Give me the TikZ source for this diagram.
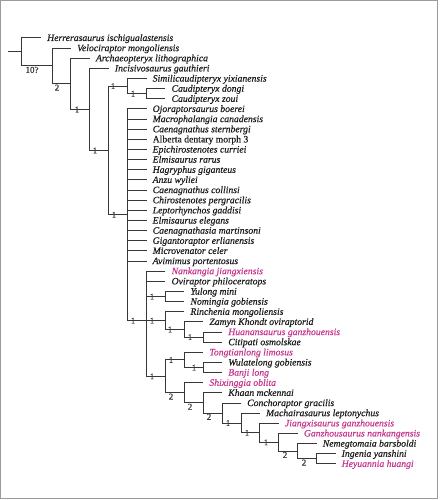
\documentclass[tikz,border=0pt]{standalone}
\usepackage{fontspec}
\setmainfont{Liberation Serif}[FakeBold=0.45]
\definecolor{treeline}{RGB}{55,55,55}
\definecolor{taxoncol}{RGB}{28,28,28}
\definecolor{newcol}{RGB}{196,54,142}
\definecolor{framecol}{RGB}{155,155,155}
\newcommand{\mytip}[6]{%
  \coordinate (e#1) at (#3,#4);
  \draw[branch] (#2) |- (e#1);
  \node[#5] (t#1) at (e#1) {#6};
}
\begin{document}
\begin{tikzpicture}[x=1pt,y=-1pt,
  branch/.style={draw=treeline, line width=1pt},
  taxon/.style={anchor=base west, inner sep=0pt, xshift=6pt, yshift=-3pt,
    font=\fontsize{9.7}{10}\selectfont\itshape, text=taxoncol},
  newtaxon/.style={taxon, text=newcol},
  uptaxon/.style={taxon, font=\fontsize{9.7}{10}\selectfont},
  tick/.style={inner sep=0pt, anchor=center, font=\fontsize{8.5}{9}\selectfont, text=treeline},
  below label/.style={inner sep=0pt, anchor=north, yshift=-0.6pt, font=\fontsize{9}{9}\selectfont, text=treeline}]
\useasboundingbox (0,0) rectangle (439,500);
\draw[framecol, line width=1pt] (0.5,0.5) rectangle (437.5,498.5);
% internal nodes
\coordinate (root) at (21,52.0);
\coordinate (stem) at (8,52.0);
\coordinate (nA) at (52.0,66.0);
\coordinate (nB) at (70.9,83.87);
\coordinate (nC) at (89.8,109.46);
\coordinate (nD) at (108.7,150.49);
\coordinate (cau) at (127.6,86.17);
\coordinate (cd) at (146.5,93.77);
\coordinate (cae) at (127.6,214.81);
\coordinate (ovi) at (146.5,320.64);
\coordinate (yn) at (165.4,296.57);
\coordinate (cx) at (165.4,320.64);
\coordinate (zam) at (184.3,329.5);
\coordinate (hc) at (203.2,337.13);
\coordinate (cy) at (165.4,376.4);
\coordinate (tt) at (184.3,359.95);
\coordinate (wb) at (203.2,367.55);
\coordinate (sx) at (184.3,392.86);
\coordinate (kh) at (203.2,402.96);
\coordinate (co) at (222.1,413.02);
\coordinate (mc) at (241.0,423.0);
\coordinate (jx) at (259.9,432.83);
\coordinate (gz) at (278.8,442.33);
\coordinate (nm) at (297.7,451.2);
\coordinate (ih) at (316.6,458.81);
% internal connectors
\draw[branch] (stem) -- (root);
\draw[branch] (root) |- (nA);
\draw[branch] (nA) |- (nB);
\draw[branch] (nB) |- (nC);
\draw[branch] (nC) |- (nD);
\draw[branch] (nD) |- (cau);
\draw[branch] (cau) |- (cd);
\draw[branch] (nD) |- (cae);
\draw[branch] (cae) |- (ovi);
\draw[branch] (ovi) |- (yn);
\draw[branch] (ovi) |- (cx);
\draw[branch] (cx) |- (zam);
\draw[branch] (zam) |- (hc);
\draw[branch] (ovi) |- (cy);
\draw[branch] (cy) |- (tt);
\draw[branch] (tt) |- (wb);
\draw[branch] (cy) |- (sx);
\draw[branch] (sx) |- (kh);
\draw[branch] (kh) |- (co);
\draw[branch] (co) |- (mc);
\draw[branch] (mc) |- (jx);
\draw[branch] (jx) |- (gz);
\draw[branch] (gz) |- (nm);
\draw[branch] (nm) |- (ih);
% tips
\mytip{1}{root}{41}{38.0}{taxon}{Herrerasaurus ischigualastensis}
\mytip{2}{nA}{70.9}{48.14}{taxon}{Velociraptor mongoliensis}
\mytip{3}{nB}{89.8}{58.28}{taxon}{Archaeopteryx lithographica}
\mytip{4}{nC}{108.7}{68.42}{taxon}{Incisivosaurus gauthieri}
\mytip{5}{cau}{146.5}{78.56}{taxon}{Similicaudipteryx yixianensis}
\mytip{6}{cd}{165.4}{88.70}{taxon}{Caudipteryx dongi}
\mytip{7}{cd}{165.4}{98.84}{taxon}{Caudipteryx zoui}
\mytip{8}{cae}{146.5}{108.98}{taxon}{Ojoraptorsaurus boerei}
\mytip{9}{cae}{146.5}{119.12}{taxon}{Macrophalangia canadensis}
\mytip{10}{cae}{146.5}{129.26}{taxon}{Caenagnathus sternbergi}
\mytip{11}{cae}{146.5}{139.40}{uptaxon}{Alberta dentary morph 3}
\mytip{12}{cae}{146.5}{149.54}{taxon}{Epichirostenotes curriei}
\mytip{13}{cae}{146.5}{159.68}{taxon}{Elmisaurus rarus}
\mytip{14}{cae}{146.5}{169.82}{taxon}{Hagryphus giganteus}
\mytip{15}{cae}{146.5}{179.96}{taxon}{Anzu wyliei}
\mytip{16}{cae}{146.5}{190.10}{taxon}{Caenagnathus collinsi}
\mytip{17}{cae}{146.5}{200.24}{taxon}{Chirostenotes pergracilis}
\mytip{18}{cae}{146.5}{210.38}{taxon}{Leptorhynchos gaddisi}
\mytip{19}{cae}{146.5}{220.52}{taxon}{Elmisaurus elegans}
\mytip{20}{cae}{146.5}{230.66}{taxon}{Caenagnathasia martinsoni}
\mytip{21}{cae}{146.5}{240.80}{taxon}{Gigantoraptor erlianensis}
\mytip{22}{cae}{146.5}{250.94}{taxon}{Microvenator celer}
\mytip{23}{cae}{146.5}{261.08}{taxon}{Avimimus portentosus}
\mytip{24}{ovi}{165.4}{271.22}{newtaxon}{Nankangia jiangxiensis}
\mytip{25}{ovi}{165.4}{281.36}{taxon}{Oviraptor philoceratops}
\mytip{26}{yn}{184.3}{291.50}{taxon}{Yulong mini}
\mytip{27}{yn}{184.3}{301.64}{taxon}{Nomingia gobiensis}
\mytip{28}{cx}{184.3}{311.78}{taxon}{Rinchenia mongoliensis}
\mytip{29}{zam}{203.2}{321.92}{taxon}{Zamyn Khondt oviraptorid}
\mytip{30}{hc}{222.1}{332.06}{newtaxon}{Huanansaurus ganzhouensis}
\mytip{31}{hc}{222.1}{342.20}{taxon}{Citipati osmolskae}
\mytip{32}{tt}{203.2}{352.34}{newtaxon}{Tongtianlong limosus}
\mytip{33}{wb}{222.1}{362.48}{taxon}{Wulatelong gobiensis}
\mytip{34}{wb}{222.1}{372.62}{newtaxon}{Banji long}
\mytip{35}{sx}{203.2}{382.76}{newtaxon}{Shixinggia oblita}
\mytip{36}{kh}{222.1}{392.90}{taxon}{Khaan mckennai}
\mytip{37}{co}{241.0}{403.04}{taxon}{Conchoraptor gracilis}
\mytip{38}{mc}{259.9}{413.18}{taxon}{Machairasaurus leptonychus}
\mytip{39}{jx}{278.8}{423.32}{newtaxon}{Jiangxisaurus ganzhouensis}
\mytip{40}{gz}{297.7}{433.46}{newtaxon}{Ganzhousaurus nankangensis}
\mytip{41}{nm}{316.6}{443.60}{taxon}{Nemegtomaia barsboldi}
\mytip{42}{ih}{335.5}{453.74}{taxon}{Ingenia yanshini}
\mytip{43}{ih}{335.5}{463.88}{newtaxon}{Heyuannia huangi}
% support values
\node[below label] (sA) at (32,66.0) {10?};
\node[below label] (sB) at (57,83.87) {2};
\node[tick] (sC) at (77,109.46) {1};
\node[tick] (sD) at (95,150.49) {1};
\node[tick] (scau) at (113,86.17) {1};
\node[tick] (scd) at (133,93.77) {1};
\node[tick] (scae) at (114,214.81) {1};
\node[tick] (sovi) at (133,320.64) {1};
\node[tick] (syn) at (152,296.57) {1};
\node[tick] (scx) at (152,320.64) {1};
\node[tick] (szam) at (170,329.5) {1};
\node[tick] (shc) at (190,337.13) {1};
\node[tick] (scy) at (152,376.4) {1};
\node[tick] (stt) at (171,359.95) {1};
\node[tick] (swb) at (194,367.55) {1};
\node[below label] (ssx) at (171,392.86) {2};
\node[below label] (skh) at (190,402.96) {2};
\node[below label] (sco) at (209,413.02) {2};
\node[tick] (smc) at (228,423.0) {1};
\node[tick] (sjx) at (247,432.83) {1};
\node[tick] (sgz) at (266,442.33) {1};
\node[below label] (snm) at (285,451.2) {2};
\node[below label] (sih) at (304,458.81) {2};
\end{tikzpicture}
\end{document}
